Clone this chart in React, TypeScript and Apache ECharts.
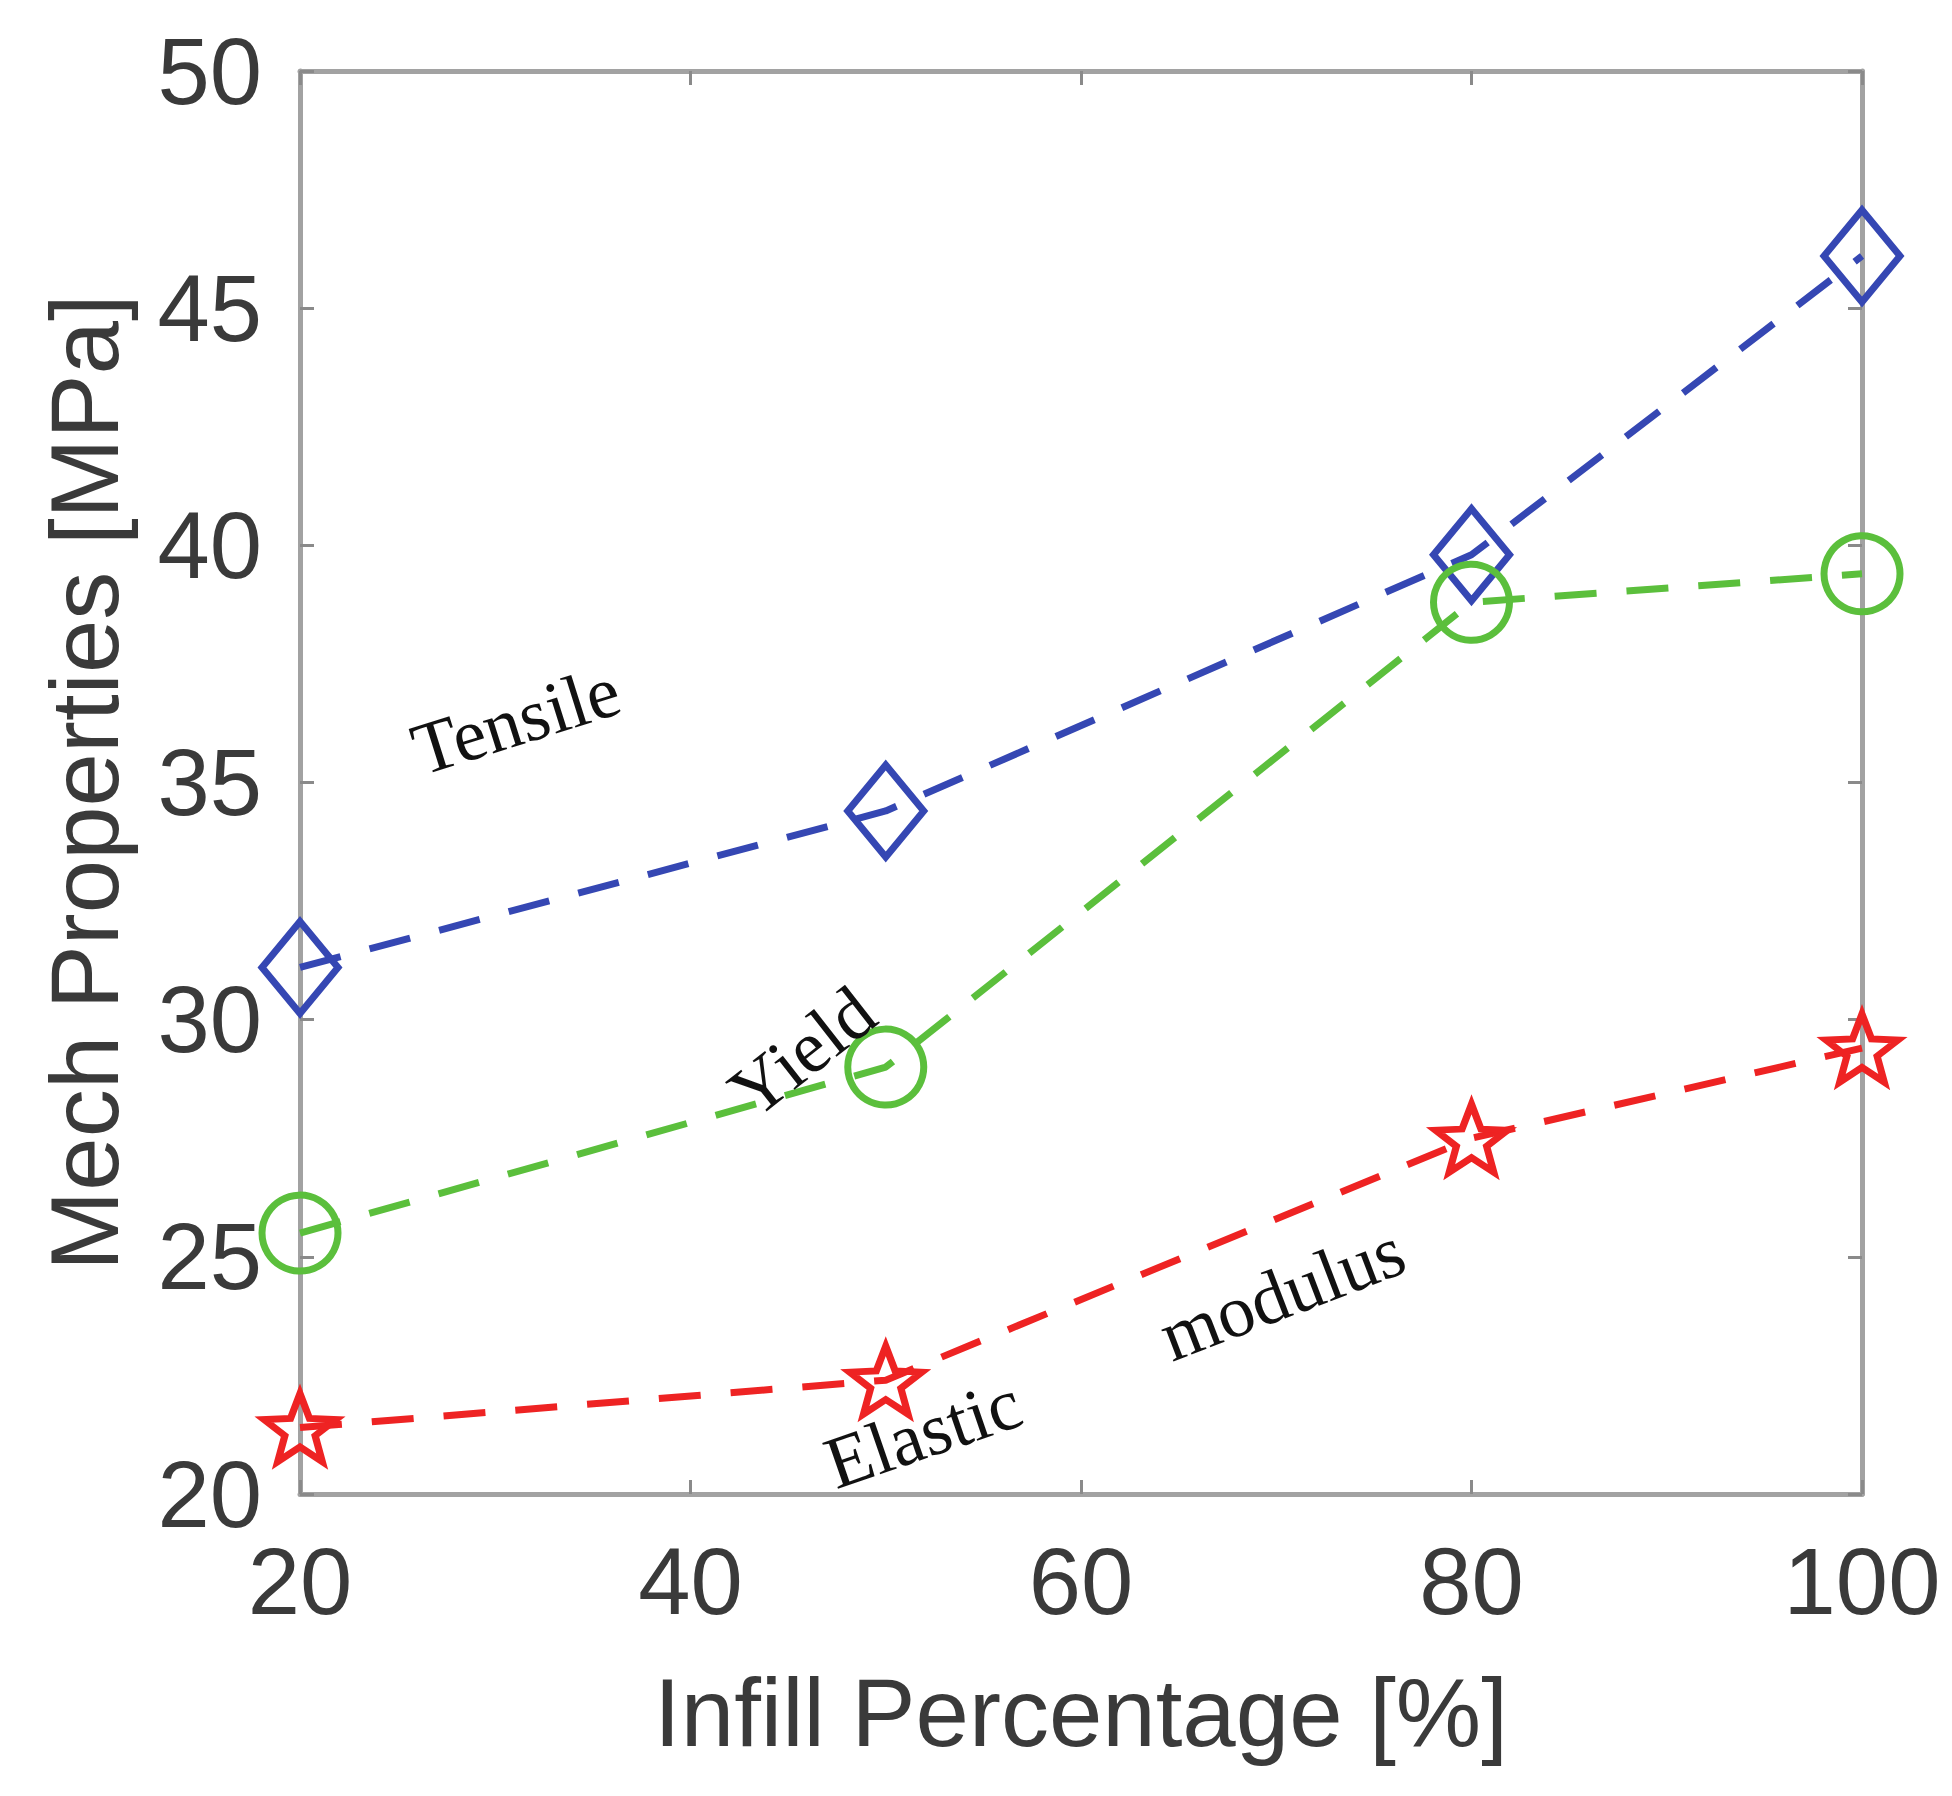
import { useEffect, useRef } from "react";
import * as echarts from "echarts";

// 填充率（%）
const INFILL = [20, 50, 80, 100];
// 各性能（MPa）
const TENSILE = [31.1, 34.4, 39.8, 46.1];
const YIELD = [25.5, 29.0, 38.8, 39.4];
const ELASTIC = [21.4, 22.4, 27.5, 29.4];

const X_TICKS = { min: 20, max: 100, interval: 20 };
const Y_TICKS = { min: 20, max: 50, interval: 5 };

const BLUE = "#3547b3";
const GREEN = "#5bbf3c";
const RED = "#ee2323";
const AXIS_GRAY = "#a2a2a2";
const LABEL_INK = "#3a3a3a";

const STAR =
  "path://M50 0 L62.5 33 L97.55 34.55 L70 56 L79.39 90.45 L50 71 L20.61 90.45 L30 56 L2.45 34.55 L37.5 33 Z";

const SANS = "'Liberation Sans', Arial, sans-serif";
const SERIF = "'Liberation Serif', 'DejaVu Serif', serif";

function pairs(ys: number[]) {
  return INFILL.map((x, i) => [x, ys[i]]);
}

function lineSeries(
  name: string,
  ys: number[],
  color: string,
  symbol: string,
  symbolSize: number | number[],
) {
  return {
    name,
    type: "line",
    data: pairs(ys),
    symbol,
    symbolSize,
    showSymbol: true,
    lineStyle: { color, width: 7, type: [42, 30] },
    itemStyle: { color: "transparent", borderColor: color, borderWidth: 7 },
    z: 3,
  };
}

export default function App() {
  const ref = useRef<HTMLDivElement>(null);

  useEffect(() => {
    if (!ref.current) return;
    const chart = echarts.init(ref.current, undefined, { renderer: "svg" });

    const axisLine = { show: true, lineStyle: { color: AXIS_GRAY, width: 5 } };
    const axisTick = { show: true, inside: true, length: 14, lineStyle: { color: "#8a8a8a", width: 3 } };
    const tickLabel = { color: LABEL_INK, fontSize: 94, fontFamily: SANS };
    const nameStyle = { color: LABEL_INK, fontSize: 96, fontFamily: SANS };

    const note = (text: string, x: number, y: number, deg: number) => ({
      type: "text",
      x,
      y,
      rotation: (deg * Math.PI) / 180,
      style: {
        text,
        fill: "#111",
        font: `74px ${SERIF}`,
        textAlign: "center",
        textVerticalAlign: "middle",
      },
      z: 10,
    });

    chart.setOption({
      animation: false,
      backgroundColor: "#ffffff",
      grid: { left: 300, right: 90, top: 71, bottom: 302, containLabel: false },
      xAxis: [
        {
          type: "value",
          position: "bottom",
          ...X_TICKS,
          name: "Infill Percentage [%]",
          nameLocation: "middle",
          nameGap: 170,
          nameTextStyle: nameStyle,
          axisLine,
          axisTick,
          axisLabel: { ...tickLabel, margin: 40 },
          splitLine: { show: false },
        },
        {
          type: "value",
          position: "top",
          ...X_TICKS,
          axisLine,
          axisTick,
          axisLabel: { show: false },
          splitLine: { show: false },
        },
      ],
      yAxis: [
        {
          type: "value",
          position: "left",
          ...Y_TICKS,
          name: "Mech Properties [MPa]",
          nameLocation: "middle",
          nameGap: 168,
          nameTextStyle: nameStyle,
          axisLine,
          axisTick,
          axisLabel: { ...tickLabel, margin: 38 },
          splitLine: { show: false },
        },
        {
          type: "value",
          position: "right",
          ...Y_TICKS,
          axisLine,
          axisTick,
          axisLabel: { show: false },
          splitLine: { show: false },
        },
      ],
      series: [
        lineSeries("Tensile", TENSILE, BLUE, "diamond", [76, 92]),
        lineSeries("Yield", YIELD, GREEN, "circle", 76),
        lineSeries("Elastic modulus", ELASTIC, RED, STAR, [72, 68]),
      ],
      graphic: [
        note("Tensile", 516, 720, 17.5),
        note("Yield", 802, 1052, 38),
        note("Elastic", 923, 1433, 19),
        note("modulus", 1282, 1293, 21),
      ],
    });

    return () => chart.dispose();
  }, []);

  return (
    <div
      ref={ref}
      style={{ position: "absolute", left: 0, top: 0, width: 1952, height: 1796 }}
    />
  );
}
